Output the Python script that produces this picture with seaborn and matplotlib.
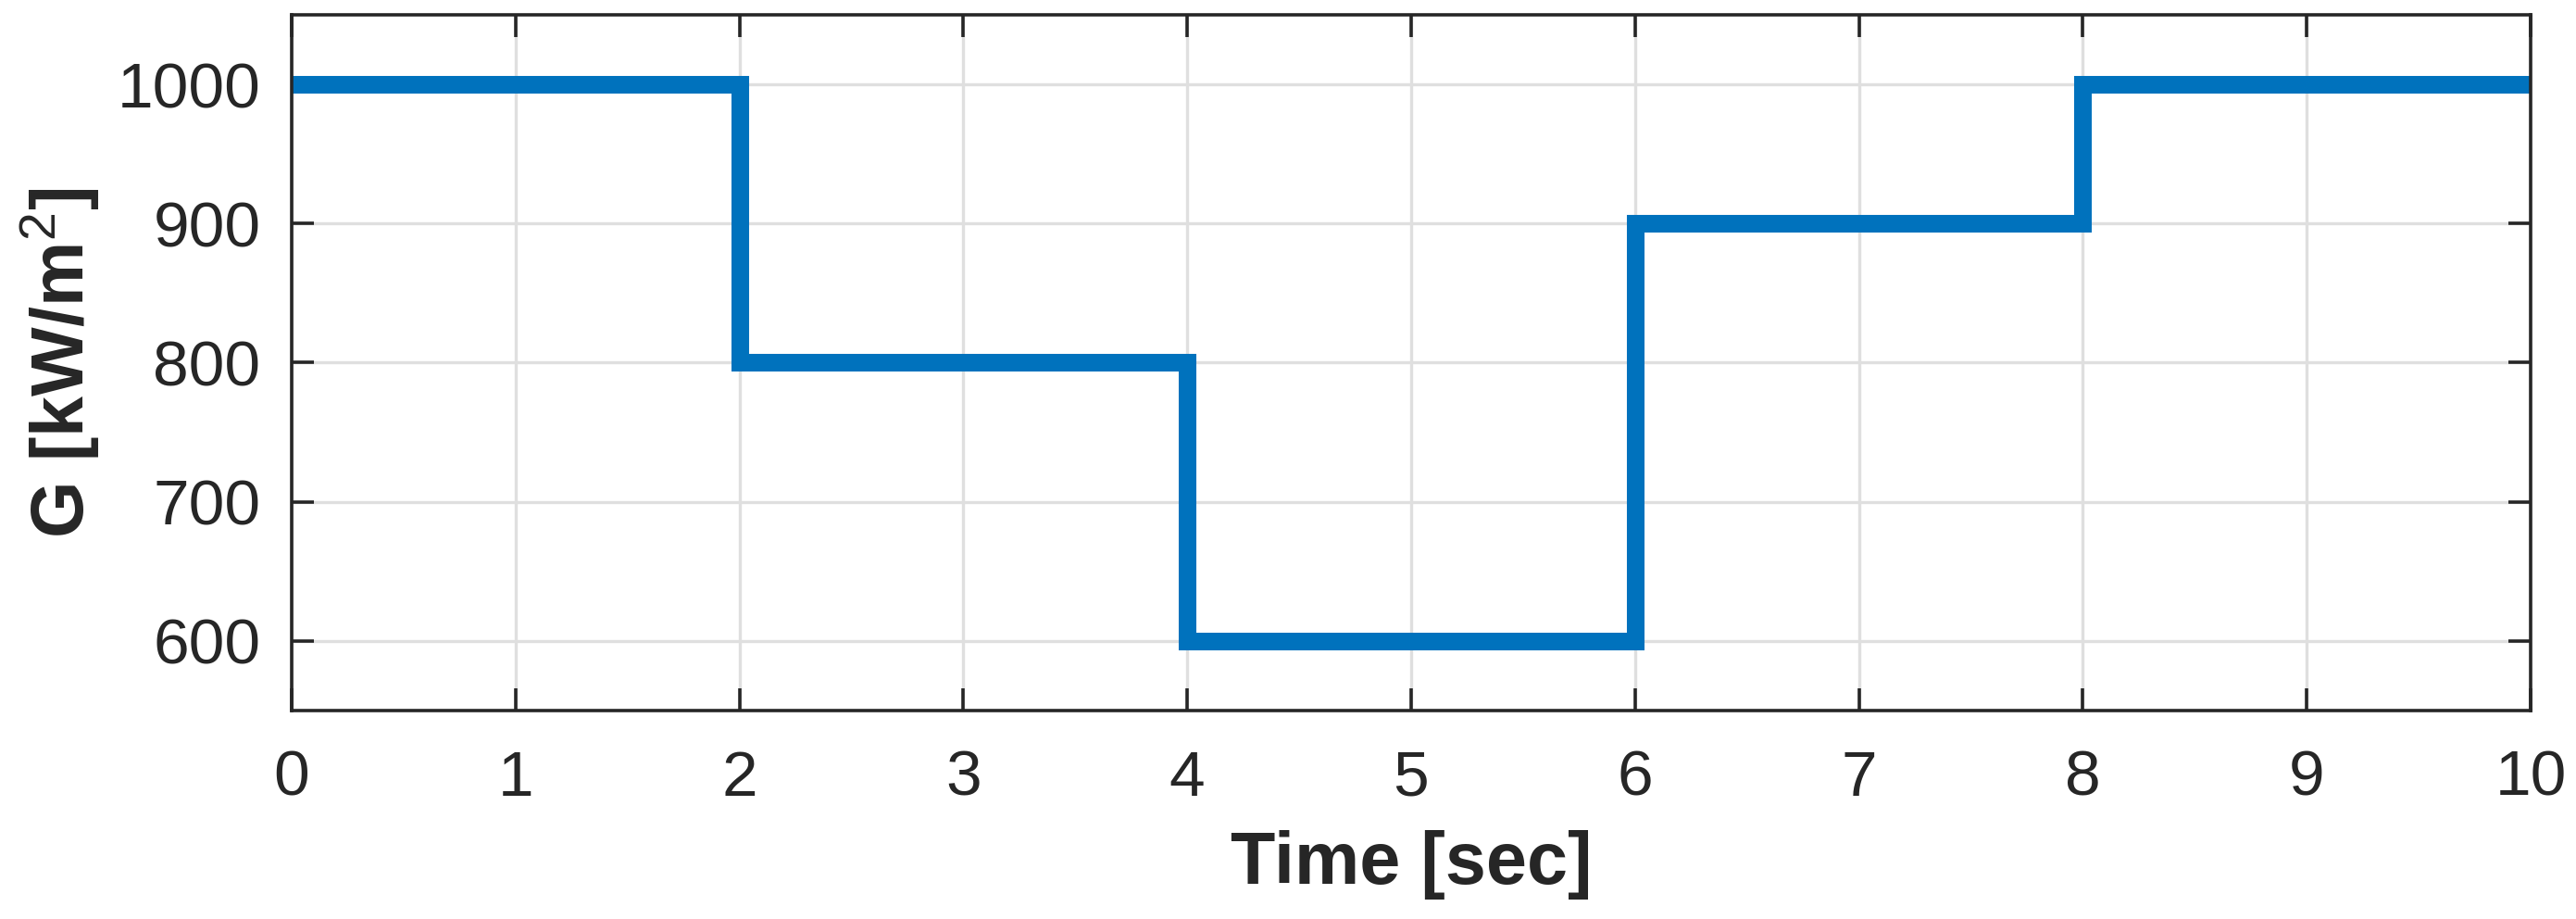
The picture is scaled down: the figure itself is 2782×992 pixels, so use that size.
import matplotlib
matplotlib.use("Agg")
import matplotlib.pyplot as plt
import pandas as pd
import seaborn as sns

# Irradiance steps
time_s = [0, 2, 4, 6, 8, 10]
irradiance = [1000, 800, 600, 900, 1000, 1000]
x_ticks = list(range(0, 11))
y_ticks = [600, 700, 800, 900, 1000]

sns.set_theme(style="ticks")
plt.rcParams["font.family"] = ["Liberation Sans", "DejaVu Sans"]
plt.rcParams["mathtext.fontset"] = "custom"
plt.rcParams["mathtext.rm"] = "Liberation Sans"
plt.rcParams["mathtext.bf"] = "Liberation Sans:bold"

DARK = "#262626"

df = pd.DataFrame({"t": time_s, "G": irradiance})

fig = plt.figure(figsize=(27.82, 9.92), dpi=100)
ax = fig.add_axes([0.1132, 0.2268, 0.8692, 0.7571])

ax.grid(True, color="#dfdfdf", linewidth=2.4, zorder=0)
ax.set_axisbelow(True)

sns.lineplot(
    data=df, x="t", y="G",
    drawstyle="steps-post",
    color="#0072BD",
    linewidth=13.7,
    solid_joinstyle="miter",
    solid_capstyle="butt",
    ax=ax,
)

ax.set_xlim(0, 10)
ax.set_ylim(550, 1050)
ax.set_xticks(x_ticks)
ax.set_yticks(y_ticks)

for side in ["top", "right", "bottom", "left"]:
    ax.spines[side].set_visible(True)
    ax.spines[side].set_color(DARK)
    ax.spines[side].set_linewidth(2.6)

# MATLAB-style box: ticks on all four sides, pointing in
ax.tick_params(axis="both", which="both", direction="in", length=17.5, width=2.6,
               color=DARK, labelcolor=DARK, labelsize=50,
               top=True, right=True)
ax.tick_params(axis="x", pad=30)
ax.tick_params(axis="y", pad=24)

ax.set_xlabel("Time [sec]", fontsize=57, fontweight="bold", color=DARK)
ax.set_ylabel(r"G [kW/m$^{2}$]", fontsize=57, fontweight="bold", color=DARK)
ax.yaxis.set_label_coords(-0.0848, 0.5)
ax.xaxis.set_label_coords(0.5, -0.172)

fig.savefig("out.png", dpi=100)
plt.close(fig)
